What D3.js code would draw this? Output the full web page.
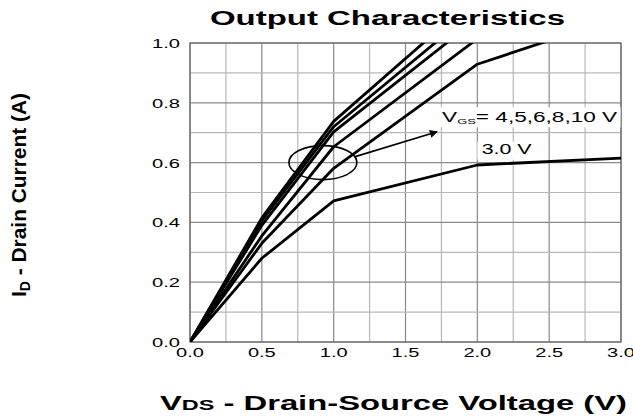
<!DOCTYPE html>
<html>
<head>
<meta charset="utf-8">
<script src="https://cdnjs.cloudflare.com/ajax/libs/d3/7.8.5/d3.min.js"></script>
<style>
  body { margin: 0; background: #fff; }
  text { font-family: "Liberation Sans", Arial, sans-serif; fill: #000; }
</style>
</head>
<body>
<script>
// data (Vds in V, Id in A)
var vds = [0, 0.5, 1.0, 2.0, 3.0]
var id10 = [0, 0.415, 0.738, 1.158]
var id8 = [0, 0.405, 0.72, 1.117]
var id6 = [0, 0.39, 0.703, 1.081]
var id5 = [0, 0.355, 0.653, 1.014]
var id4 = [0, 0.33, 0.581, 0.929, 1.088]
var id3 = [0, 0.28, 0.472, 0.592, 0.615]
var curves = [id10, id8, id6, id5, id4, id3]

var xTicks = [0, 0.5, 1.0, 1.5, 2.0, 2.5, 3.0]
var yTicks = [0, 0.2, 0.4, 0.6, 0.8, 1.0]
var xGrid = d3.range(0, 3.01, 0.25)
var yGrid = d3.range(0, 1.01, 0.1)

var W = 633, H = 416
var margin = {top: 43, right: 12, bottom: 74, left: 190},
  width = W - margin.left - margin.right,
  height = H - margin.top - margin.bottom

var svg = d3.select("body").append("svg")
  .attr("width", W).attr("height", H)

var x = d3.scaleLinear().domain([0, 3]).range([0, width])
var y = d3.scaleLinear().domain([0, 1]).range([height, 0])

var g = svg.append("g")
  .attr("transform", "translate(" + margin.left + "," + margin.top + ")")

// grid, quarter volts lighter
g.selectAll(".vg").data(xGrid).enter().append("line")
  .attr("x1", d => x(d)).attr("x2", d => x(d))
  .attr("y1", 0).attr("y2", height)
  .attr("stroke", (d, i) => i % 2 ? "#b8b8b8" : "#8a8a8a")
  .attr("stroke-width", 1.2)
g.selectAll(".hg").data(yGrid).enter().append("line")
  .attr("y1", d => y(d)).attr("y2", d => y(d))
  .attr("x1", 0).attr("x2", width)
  .attr("stroke", (d, i) => i % 2 ? "#b8b8b8" : "#8a8a8a")
  .attr("stroke-width", 1.2)

g.append("rect").attr("width", width).attr("height", height)
  .attr("fill", "none").attr("stroke", "#666").attr("stroke-width", 1.2)

// tick labels (stretched like the source image)
g.selectAll(".yt").data(yTicks).enter().append("text")
  .attr("transform", d => "translate(-10," + (y(d) + 5) + ") scale(1.55,1)")
  .attr("text-anchor", "end").attr("font-size", 13)
  .text(d => d.toFixed(1))
g.selectAll(".xt").data(xTicks).enter().append("text")
  .attr("transform", d => "translate(" + x(d) + "," + (height + 15) + ") scale(1.6,1)")
  .attr("text-anchor", "middle").attr("font-size", 12.5)
  .text(d => d.toFixed(1))

// curves
g.append("clipPath").attr("id", "clip").append("rect")
  .attr("width", width).attr("height", height)

var line = d3.line()
  .x(function(d, i) { return x(vds[i]) })
  .y(function(d) { return y(d) })

g.append("g").attr("clip-path", "url(#clip)")
  .selectAll("path").data(curves).enter().append("path")
  .attr("d", line)
  .attr("fill", "none").attr("stroke", "#000")
  .attr("stroke-width", 2.8).attr("stroke-linejoin", "round")

// annotation ellipse + arrow
g.append("ellipse")
  .attr("cx", x(0.925)).attr("cy", y(0.6)).attr("rx", 34).attr("ry", 17)
  .attr("fill", "none").attr("stroke", "#000").attr("stroke-width", 1.6)

svg.append("defs").append("marker").attr("id", "arr")
  .attr("viewBox", "0 0 10 10").attr("refX", 9).attr("refY", 5)
  .attr("markerWidth", 10).attr("markerHeight", 8).attr("orient", "auto")
  .attr("markerUnits", "userSpaceOnUse")
  .append("path").attr("d", "M0,0L10,5L0,10Z").attr("fill", "#000")

g.append("line")
  .attr("x1", x(1.15)).attr("y1", y(0.62))
  .attr("x2", x(1.72)).attr("y2", y(0.703))
  .attr("stroke", "#000").attr("stroke-width", 1.6)
  .attr("marker-end", "url(#arr)")

// labels with white boxes
g.append("rect").attr("x", x(1.73)).attr("y", y(0.785))
  .attr("width", 182).attr("height", 20).attr("fill", "#fff")
g.append("rect").attr("x", x(2.0)).attr("y", y(0.67))
  .attr("width", 56).attr("height", 18).attr("fill", "#fff")

var vgs = g.append("text").attr("x", x(1.755)).attr("y", y(0.735))
  .attr("font-size", 14).attr("textLength", 175).attr("lengthAdjust", "spacingAndGlyphs")
vgs.append("tspan").text("V")
vgs.append("tspan").attr("font-size", 8).attr("dy", 2).text("GS")
vgs.append("tspan").attr("dy", -2).text("= 4,5,6,8,10 V")

g.append("text").attr("x", x(2.03)).attr("y", y(0.63))
  .attr("font-size", 14).attr("textLength", 50).attr("lengthAdjust", "spacingAndGlyphs")
  .text("3.0 V")

// titles
svg.append("text").attr("x", 210).attr("y", 25)
  .attr("font-size", 20).attr("font-weight", "bold")
  .attr("textLength", 355).attr("lengthAdjust", "spacingAndGlyphs")
  .text("Output Characteristics")

var xt = svg.append("text").attr("x", 160).attr("y", 410)
  .attr("font-size", 21).attr("font-weight", "bold")
  .attr("textLength", 467).attr("lengthAdjust", "spacingAndGlyphs")
xt.append("tspan").text("V")
xt.append("tspan").attr("font-size", 15).text("DS")
xt.append("tspan").text(" - Drain-Source Voltage (V)")

var yt = svg.append("text")
  .attr("transform", "translate(26,195) rotate(-90)")
  .attr("text-anchor", "middle").attr("font-size", 21).attr("font-weight", "bold")
  .attr("textLength", 204).attr("lengthAdjust", "spacingAndGlyphs")
yt.append("tspan").text("I")
yt.append("tspan").attr("font-size", 14).attr("dy", 4).text("D")
yt.append("tspan").attr("dy", -4).text(" - Drain Current (A)")
</script>
</body>
</html>
